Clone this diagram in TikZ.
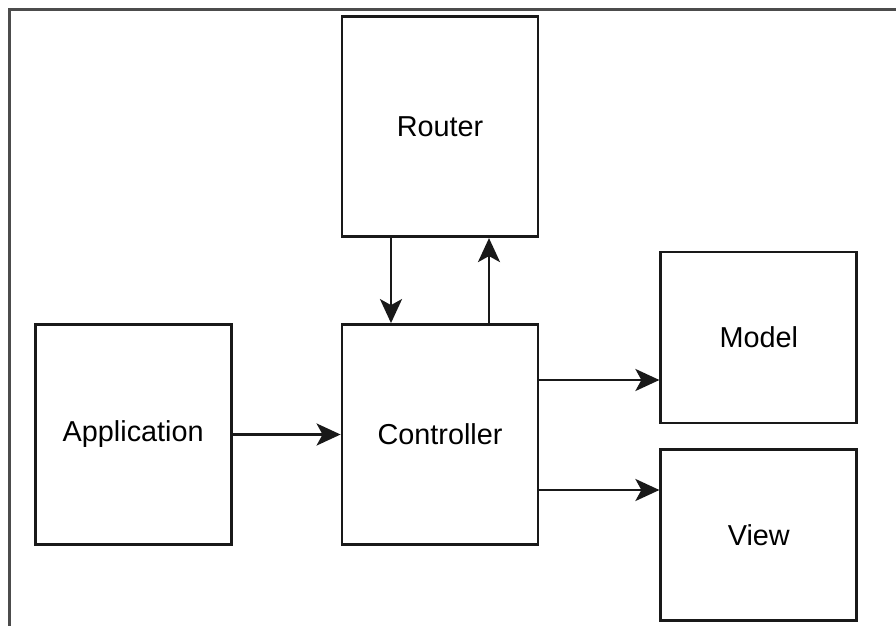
\documentclass[tikz,border=0pt]{standalone}
\usepackage{fontspec}
\setmainfont{Liberation Sans}
\usetikzlibrary{positioning,arrows.meta}

\tikzset{
  block/.style={draw=black!90, line width=2pt, minimum width=4.9cm, minimum height=5.5cm,
    font=\fontsize{20.5}{24}\selectfont, inner sep=0pt},
  smallblock/.style={block, minimum height=4.275cm},
  flow/.style={line width=2pt, draw=black!90, -{Stealth[length=0.6cm, width=0.55cm, inset=0.15cm]}},
}

\begin{document}
\begin{tikzpicture}
  \useasboundingbox (0,0) rectangle (22.4,-15.65);
  % Frame
  \draw[line width=2pt, draw=black!70] (0.2375,-15.65) -- (0.2375,-0.2375) -- (22.4,-0.2375);

  % Nodes
  \node[block] (ctrl) at (11,-10.8625) {Controller};
  \node[block, above=2.125cm of ctrl] (rtr) {Router};
  \node[block, left=2.7cm of ctrl] (app) {Application};
  \node[smallblock, right=3.0cm of ctrl, yshift=2.425cm] (model) {Model};
  \node[smallblock, below=0.6cm of model] (view) {View};

  % Connectors
  \draw[flow] (app) -- (ctrl);
  \draw[flow] ([xshift=-1.225cm]rtr.south) -- ([xshift=-1.225cm]ctrl.north);
  \draw[flow] ([xshift=1.225cm]ctrl.north) -- ([xshift=1.225cm]rtr.south);
  \draw[flow] ([yshift=1.3625cm]ctrl.east) -- ([yshift=1.3625cm]ctrl.east -| model.west);
  \draw[flow] ([yshift=-1.3875cm]ctrl.east) -- ([yshift=-1.3875cm]ctrl.east -| view.west);

\end{tikzpicture}
\end{document}
